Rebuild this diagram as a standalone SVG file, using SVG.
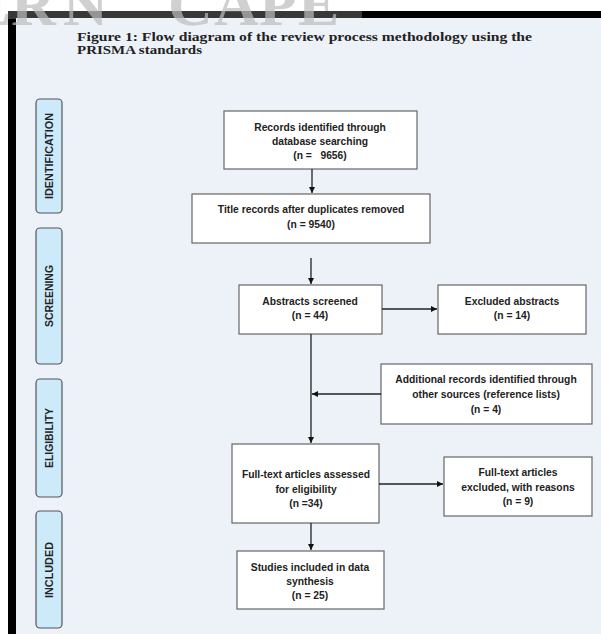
<svg xmlns="http://www.w3.org/2000/svg" width="601" height="634" viewBox="0 0 601 634">
<defs>
<style>
.bx{fill:#fff;stroke:#666;stroke-width:1.2}
.st{fill:#cdeafb;stroke:#555;stroke-width:1.2}
.t{font-family:"Liberation Sans",Arial,sans-serif;font-weight:bold;font-size:10.3px;fill:#222;text-anchor:middle}
.sl{font-family:"Liberation Sans",Arial,sans-serif;font-weight:bold;font-size:10.5px;fill:#222;text-anchor:middle}
.ti{font-family:"Liberation Serif","Times New Roman",serif;font-weight:bold;font-size:12px;fill:#222}
.ln{stroke:#222;stroke-width:1.3;fill:none}
</style>
<marker id="ah" markerWidth="8" markerHeight="8" refX="6" refY="3" orient="auto" markerUnits="userSpaceOnUse">
<path d="M0,0 L6,3 L0,6 Z" fill="#111"/>
</marker>
</defs>
<rect x="0" y="0" width="601" height="634" fill="#fff"/>
<rect x="15" y="18" width="586" height="616" fill="#edf1f8"/>
<rect x="8" y="11" width="593" height="7" fill="#000"/>
<rect x="8" y="11" width="8" height="623" fill="#000"/>
<rect x="0" y="0" width="362" height="19" fill="#fff" opacity="0.22"/>
<text x="-30 11 63 168 214 259 298" y="25" font-family="Liberation Serif,serif" font-weight="bold" font-size="62" fill="#bdbdbd" opacity="0.7">ERNCAPE</text>
<text class="ti" x="77" y="41" textLength="455" lengthAdjust="spacingAndGlyphs">Figure 1: Flow diagram of the review process methodology using the</text>
<text class="ti" x="77" y="54" textLength="125" lengthAdjust="spacingAndGlyphs">PRISMA standards</text>

<g id="stage-identification"><rect class="st" x="36" y="99" width="26" height="114" rx="4"/><text class="sl" transform="translate(52.5,156) rotate(-90)" textLength="86" lengthAdjust="spacingAndGlyphs">IDENTIFICATION</text></g>
<g id="stage-screening"><rect class="st" x="36" y="228" width="26" height="136" rx="4"/><text class="sl" transform="translate(52.5,296) rotate(-90)" textLength="62" lengthAdjust="spacingAndGlyphs">SCREENING</text></g>
<g id="stage-eligibility"><rect class="st" x="36" y="379" width="26" height="118" rx="4"/><text class="sl" transform="translate(52.5,438) rotate(-90)" textLength="60" lengthAdjust="spacingAndGlyphs">ELIGIBILITY</text></g>
<g id="stage-included"><rect class="st" x="36" y="511" width="26" height="117" rx="4"/><text class="sl" transform="translate(52.5,570) rotate(-90)" textLength="56" lengthAdjust="spacingAndGlyphs">INCLUDED</text></g>

<g id="records"><rect class="bx" x="224" y="111" width="193" height="58"/>
<text class="t" x="320" y="131">Records identified through</text>
<text class="t" x="320" y="145">database searching</text>
<text class="t" x="320" y="159" xml:space="preserve">(n =   9656)</text></g>

<g id="title-records"><rect class="bx" x="192" y="194" width="238" height="49"/>
<text class="t" x="311" y="213">Title records after duplicates removed</text>
<text class="t" x="311" y="228">(n = 9540)</text></g>

<g id="abstracts"><rect class="bx" x="239" y="285" width="143" height="49"/>
<text class="t" x="310" y="305">Abstracts screened</text>
<text class="t" x="310" y="319">(n = 44)</text></g>

<g id="excluded-abstracts"><rect class="bx" x="438" y="285" width="148" height="49"/>
<text class="t" x="512" y="305">Excluded abstracts</text>
<text class="t" x="512" y="319">(n = 14)</text></g>

<g id="additional"><rect class="bx" x="381" y="364" width="211" height="60"/>
<text class="t" x="486" y="383">Additional records identified through</text>
<text class="t" x="486" y="398">other sources (reference lists)</text>
<text class="t" x="486" y="413">(n = 4)</text></g>

<g id="fulltext"><rect class="bx" x="232" y="444" width="147" height="79"/>
<text class="t" x="306" y="478">Full-text articles assessed</text>
<text class="t" x="306" y="493">for eligibility</text>
<text class="t" x="306" y="507">(n =34)</text></g>

<g id="fulltext-excluded"><rect class="bx" x="444" y="457" width="148" height="59"/>
<text class="t" x="518" y="476">Full-text articles</text>
<text class="t" x="518" y="491">excluded, with reasons</text>
<text class="t" x="518" y="505">(n = 9)</text></g>

<g id="included"><rect class="bx" x="237" y="551" width="147" height="58"/>
<text class="t" x="310" y="571">Studies included in data</text>
<text class="t" x="310" y="585">synthesis</text>
<text class="t" x="310" y="599">(n = 25)</text></g>

<g id="connectors">
<line class="ln" x1="312" y1="169" x2="312" y2="193" marker-end="url(#ah)"/>
<line class="ln" x1="311" y1="258" x2="311" y2="284" marker-end="url(#ah)"/>
<line class="ln" x1="382" y1="309" x2="437" y2="309" marker-end="url(#ah)"/>
<line class="ln" x1="311" y1="334" x2="311" y2="443" marker-end="url(#ah)"/>
<line class="ln" x1="381" y1="394" x2="312" y2="394" marker-end="url(#ah)"/>
<line class="ln" x1="379" y1="484" x2="443" y2="484" marker-end="url(#ah)"/>
<line class="ln" x1="311" y1="523" x2="311" y2="550" marker-end="url(#ah)"/>
</g>
</svg>
